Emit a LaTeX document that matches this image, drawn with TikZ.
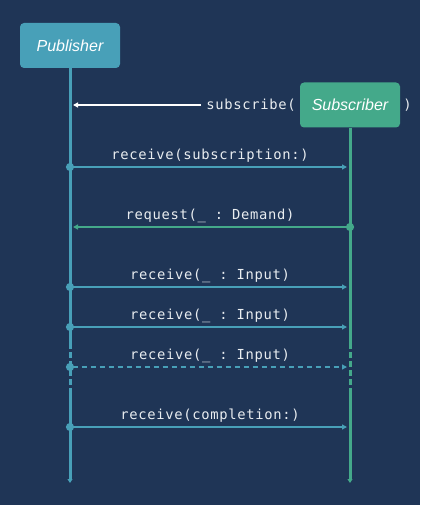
\documentclass[tikz,border=0pt]{standalone}
\usepackage{fontspec}
\setsansfont{Liberation Sans}
\setmonofont[LetterSpace=5]{DejaVu Sans Mono}
\usepackage{tikz}
\usetikzlibrary{arrows.meta,positioning}
\definecolor{cBack}{HTML}{1F3556}
\definecolor{cPub}{HTML}{48A0B8}
\definecolor{cSub}{HTML}{44A98A}
\definecolor{cText}{HTML}{E9EDF0}
\tikzset{
  actor/.style={fill=#1,rounded corners=4pt,minimum width=100pt,minimum height=45pt,inner sep=0pt,
    font=\sffamily\itshape\fontsize{16}{18}\selectfont,text=white},
  life/.style={line width=3pt,color=#1},
  lifeend/.style={life=#1,-{Triangle[length=4pt,width=5pt]}},
  msg/.style={line width=2.8pt,color=#1,{Circle[length=8pt]}-{Triangle[length=5pt,width=5pt]},
    shorten <=-4pt,shorten >=3pt},
  lbl/.style={font=\ttfamily\fontsize{13.8}{16}\selectfont,text=cText,inner sep=1pt},
  dsh/.style={dash pattern=on 5.5pt off 3.5pt},
}

\begin{document}
\begin{tikzpicture}[x=1pt,y=-1pt]
  \useasboundingbox[fill=cBack] (0,0) rectangle (420,505);
  % actors
  \node[actor=cPub] (pub) at (70,45.5) {Publisher};
  \node[actor=cSub] (sub) at (350,105) {Subscriber};
  \node[lbl,anchor=east] (subtxt) at ([xshift=-3pt]sub.west) {subscribe(};
  \node[lbl,anchor=west] (close) at ([xshift=2pt]sub.east) {)};
  % lifelines
  \coordinate (pa) at (70,343); \coordinate (pb) at (70,389); \coordinate (pend) at (70,483);
  \coordinate (sa) at (350,343); \coordinate (sb) at (350,389); \coordinate (send) at (350,483);
  \draw[life=cPub] (pub.south) -- (pa);
  \draw[life=cPub,dsh] (pa) -- (pb);
  \draw[lifeend=cPub] (pb) -- (pend);
  \draw[life=cSub] (sub.south) -- (sa);
  \draw[life=cSub,dsh] (sa) -- (sb);
  \draw[lifeend=cSub] (sb) -- (send);
  % subscribe
  \coordinate (p0) at (70,105);
  \draw[line width=2.2pt,white,-{Triangle[length=5pt,width=5pt]},shorten >=3pt] ([xshift=-4pt]subtxt.west) -- (p0);
  % messages
  \coordinate (p1) at (70,167); \coordinate (s1) at (350,167);
  \coordinate (p2) at (70,227); \coordinate (s2) at (350,227);
  \coordinate (p3) at (70,287); \coordinate (s3) at (350,287);
  \coordinate (p4) at (70,327); \coordinate (s4) at (350,327);
  \coordinate (p5) at (70,367); \coordinate (s5) at (350,367);
  \coordinate (p6) at (70,427); \coordinate (s6) at (350,427);
  \draw[msg=cPub] (p1) -- node[lbl,above=2pt] (m1) {receive(subscription:)} (s1);
  \draw[msg=cSub] (s2) -- node[lbl,above=2pt] (m2) {request(\_ : Demand)} (p2);
  \draw[msg=cPub] (p3) -- node[lbl,above=2pt] (m3) {receive(\_ : Input)} (s3);
  \draw[msg=cPub] (p4) -- node[lbl,above=2pt] (m4) {receive(\_ : Input)} (s4);
  \draw[msg=cPub,dsh] (p5) -- node[lbl,above=2pt] (m5) {receive(\_ : Input)} (s5);
  \draw[msg=cPub] (p6) -- node[lbl,above=2pt] (m6) {receive(completion:)} (s6);
\end{tikzpicture}
\end{document}
